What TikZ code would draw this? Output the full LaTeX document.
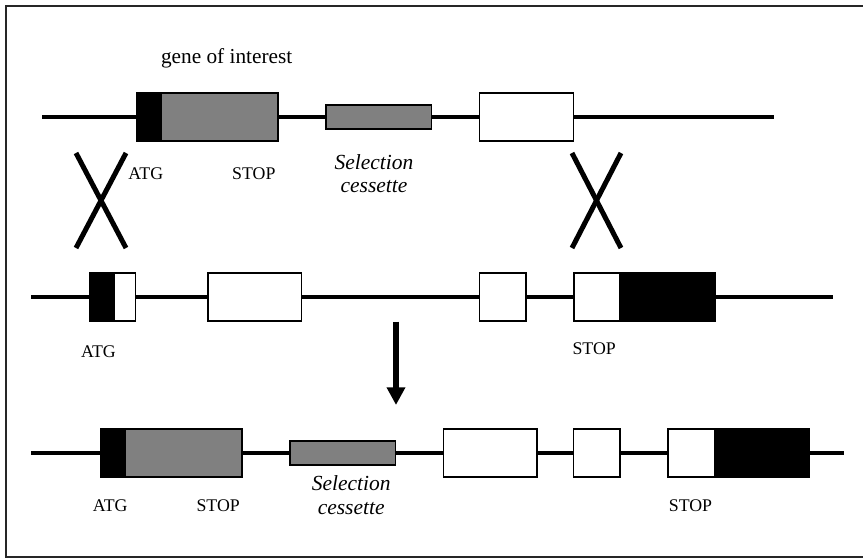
\documentclass[tikz,border=0pt]{standalone}
\usepackage{fontspec}
\setmainfont{Liberation Serif}
\usetikzlibrary{arrows.meta}

\definecolor{exongray}{RGB}{128,128,128}

\tikzset{
  dna/.style={line width=3.7pt},
  exon/.style={draw=black, line width=1.9pt, inner sep=0pt, outer sep=0pt,
               minimum height=48pt, anchor=west, fill=white},
  cassette/.style={exon, minimum height=24pt, fill=exongray},
  crossline/.style={line width=5pt},
  lbl/.style={inner sep=0pt, anchor=base, font=\fontsize{17.8}{21}\selectfont},
  bigl/.style={inner sep=0pt, anchor=base, font=\fontsize{21.3}{25}\selectfont},
  seltext/.style={bigl, font=\fontsize{21.5}{25}\selectfont\itshape},
  frame/.style={line width=2.2pt, draw=black!85}
}

\begin{document}
\begin{tikzpicture}[x=1pt, y=-1pt]
  \useasboundingbox (0,0) rectangle (863,558);
  \clip (0,0) rectangle (863,558);
  % outer frame, its right side runs past the page edge
  \coordinate (fTR) at (880,5.8);
  \coordinate (fTL) at (5.6,5.8);
  \coordinate (fBL) at (5.6,557.2);
  \coordinate (fBR) at (880,557.2);
  \draw[frame] (fTR) -- (fTL) -- (fBL) -- (fBR);

  % ---------- targeting construct ----------
  \coordinate (r1s) at (42,117);
  \coordinate (r1e) at (774,117);
  \node[exon, fill=black, minimum width=24.5pt] (g1a) at (136.5,117) {};
  \node[exon, fill=exongray, minimum width=117pt] (g1b) at (g1a.east) {};
  \node[cassette, minimum width=105.5pt] (s1) at (326,117) {};
  \node[exon, minimum width=94pt] (w1) at (479.5,117) {};
  \draw[dna] (r1s) -- (g1a.west);
  \draw[dna] (g1b.east) -- (s1.west);
  \draw[dna] (s1.east) -- (w1.west);
  \draw[dna] (w1.east) -- (r1e);

  \node[bigl] (goi) at (226.7,63.3) {gene of interest};
  \node[lbl] (atg1) at (145.8,179) {ATG};
  \node[lbl] (stop1) at (253.8,179) {STOP};
  \node[seltext] (sel1a) at (374,169) {Selection};
  \node[seltext] (sel1b) at (374,192.7) {cessette};

  % ---------- crossover marks ----------
  \coordinate (xl1) at (76,153);   \coordinate (xl2) at (126,248);
  \coordinate (xl3) at (126,153);  \coordinate (xl4) at (76,248);
  \coordinate (xr1) at (572,153);  \coordinate (xr2) at (621,248);
  \coordinate (xr3) at (621,153);  \coordinate (xr4) at (572,248);
  \draw[crossline] (xl1) -- (xl2);
  \draw[crossline] (xl3) -- (xl4);
  \draw[crossline] (xr1) -- (xr2);
  \draw[crossline] (xr3) -- (xr4);

  % ---------- wild-type locus ----------
  \coordinate (r2s) at (31,297);
  \coordinate (r2e) at (833,297);
  \node[exon, fill=black, minimum width=24.5pt] (a2k) at (89.5,297) {};
  \node[exon, minimum width=21.5pt] (a2w) at (a2k.east) {};
  \node[exon, minimum width=93.5pt] (b2) at (208,297) {};
  \node[exon, minimum width=46.5pt] (c2) at (479.5,297) {};
  \node[exon, minimum width=46pt] (d2w) at (574,297) {};
  \node[exon, fill=black, minimum width=95pt] (d2k) at (d2w.east) {};
  \draw[dna] (r2s) -- (a2k.west);
  \draw[dna] (a2w.east) -- (b2.west);
  \draw[dna] (b2.east) -- (c2.west);
  \draw[dna] (c2.east) -- (d2w.west);
  \draw[dna] (d2k.east) -- (r2e);

  \node[lbl] (atg2) at (98.5,357.3) {ATG};
  \node[lbl] (stop2) at (594.2,354) {STOP};

  % ---------- arrow ----------
  \coordinate (arS) at (396,321.7);
  \coordinate (arE) at (396,405);
  \draw[line width=5.7pt, -{Triangle[width=17.7pt, length=17.7pt]}] (arS) -- (arE);

  % ---------- recombined locus ----------
  \coordinate (r3s) at (31,453);
  \coordinate (r3e) at (844,453);
  \node[exon, fill=black, minimum width=24pt] (g3a) at (101,453) {};
  \node[exon, fill=exongray, minimum width=117pt] (g3b) at (g3a.east) {};
  \node[cassette, minimum width=105.5pt] (s3) at (290,453) {};
  \node[exon, minimum width=93.5pt] (w3) at (443.5,453) {};
  \node[exon, minimum width=46.5pt] (c3) at (573.5,453) {};
  \node[exon, minimum width=46.5pt] (d3w) at (668,453) {};
  \node[exon, fill=black, minimum width=95pt] (d3k) at (d3w.east) {};
  \draw[dna] (r3s) -- (g3a.west);
  \draw[dna] (g3b.east) -- (s3.west);
  \draw[dna] (s3.east) -- (w3.west);
  \draw[dna] (w3.east) -- (c3.west);
  \draw[dna] (c3.east) -- (d3w.west);
  \draw[dna] (d3k.east) -- (r3e);

  \node[lbl] (atg3) at (110.2,511.7) {ATG};
  \node[lbl] (stop3) at (218.2,511.7) {STOP};
  \node[seltext] (sel3a) at (351.2,490.7) {Selection};
  \node[seltext] (sel3b) at (351.2,514.3) {cessette};
  \node[lbl] (stop4) at (690.5,511.7) {STOP};
\end{tikzpicture}
\end{document}
